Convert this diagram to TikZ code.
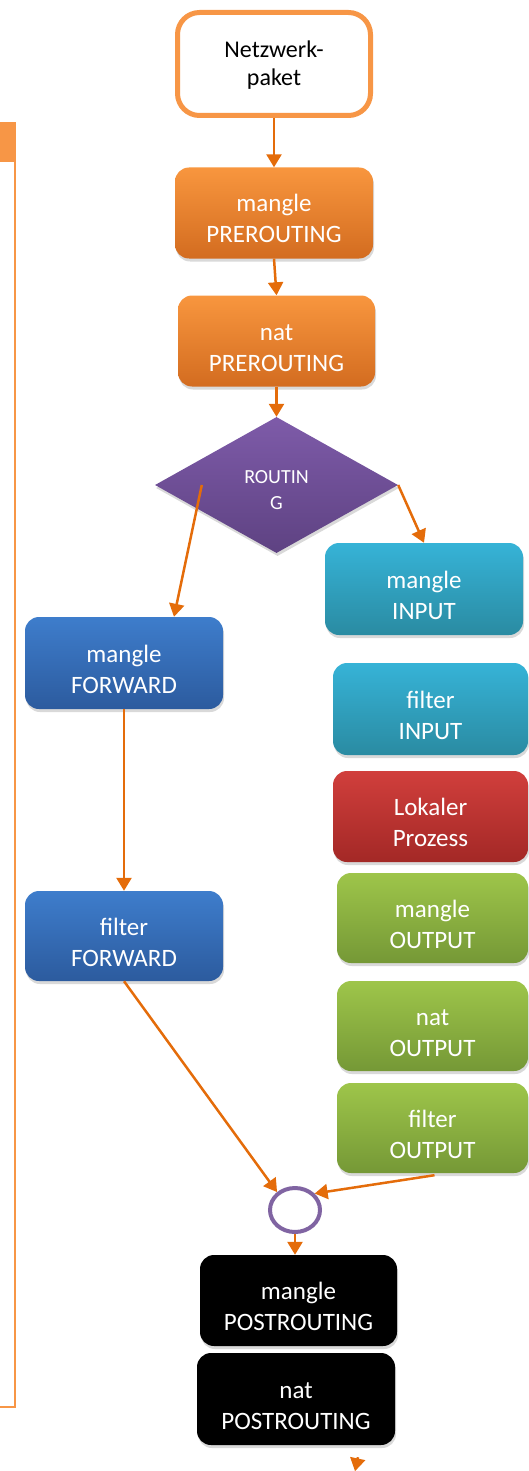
\documentclass[tikz,border=0pt]{standalone}
\usepackage{fontspec}
\setmainfont{Carlito}
\usetikzlibrary{positioning, arrows.meta, shapes.geometric, shadows, backgrounds}

\definecolor{pfeilfarbe}{HTML}{E46C0A}
\definecolor{rahmenorange}{HTML}{F79646}
\definecolor{orangeoben}{HTML}{F8963E}
\definecolor{orangeunten}{HTML}{D36C20}
\definecolor{lilaoben}{HTML}{7E5BA9}
\definecolor{lilaunten}{HTML}{5E4282}
\definecolor{kreisfarbe}{HTML}{8064A2}
\definecolor{tuerkisoben}{HTML}{36B3D7}
\definecolor{tuerkisunten}{HTML}{2A8BA2}
\definecolor{blauoben}{HTML}{3E7DCC}
\definecolor{blauunten}{HTML}{2C5B9E}
\definecolor{rotoben}{HTML}{D13F3C}
\definecolor{rotunten}{HTML}{A32826}
\definecolor{gruenoben}{HTML}{9EC54A}
\definecolor{gruenunten}{HTML}{759836}

\begin{document}
\begin{tikzpicture}[x=1pt, y=-1pt,
	kasten/.style={rectangle, rounded corners=14pt, minimum width=198pt, minimum height=91pt,
		inner sep=0pt, align=center, text=white, font=\fontsize{25}{31}\selectfont,
		text height=60pt, text depth=0pt,
		drop shadow={opacity=0.3, shadow xshift=1pt, shadow yshift=-3pt}},
	prekasten/.style={kasten, top color=orangeoben, bottom color=orangeunten},
	inkasten/.style={kasten, top color=tuerkisoben, bottom color=tuerkisunten},
	fwdkasten/.style={kasten, top color=blauoben, bottom color=blauunten},
	prozkasten/.style={kasten, top color=rotoben, bottom color=rotunten},
	outkasten/.style={kasten, top color=gruenoben, bottom color=gruenunten},
	postkasten/.style={kasten, fill=black},
	pfeil/.style={draw=pfeilfarbe, line width=2.5pt, -{Triangle[length=13pt,width=15pt]}}
	]
		\useasboundingbox (0,0) rectangle (528,1471);

		% Abgeschnittener Rahmen links
		\fill[rahmenorange] (0,122) rectangle (16,162);
		\draw[rahmenorange, line width=2pt] (15,162) -- (15,1406.5) -- (0,1406.5);

		% Eingang
		\node[draw=rahmenorange, line width=5pt, fill=white, rounded corners=22pt,
			minimum width=193pt, minimum height=103pt, align=center, inner sep=0pt,
			text height=44pt, text depth=0pt,
			font=\fontsize{24}{28}\selectfont] (netz) at (274,64) {Netzwerk-\\paket};

		% PREROUTING
		\node[prekasten] (mpre) at (274,213) {mangle\\PREROUTING};
		\node[prekasten, minimum width=197pt] (npre) at (276.5,341) {nat\\PREROUTING};

		% Routing-Entscheidung
		\node[diamond, aspect=1.79, minimum width=243pt, minimum height=136pt, inner sep=0pt,
			top color=lilaoben, bottom color=lilaunten, text=white, align=center,
			font=\fontsize{20}{26}\selectfont, text height=48pt, text depth=0pt,
			drop shadow={opacity=0.3, shadow xshift=1pt, shadow yshift=-3pt}]
			(routing) at (276.5,485) {ROUTIN\\G};

		% INPUT und lokaler Prozess
		\node[inkasten, minimum height=92pt] (min) at (424,589) {mangle\\INPUT};
		\node[inkasten, minimum width=195pt, minimum height=92pt] (fin) at (430.5,709) {filter\\INPUT};
		\node[prozkasten, minimum width=195pt] (lokal) at (430.5,816.5) {Lokaler\\Prozess};

		% OUTPUT
		\node[outkasten, minimum width=191pt, minimum height=90pt] (mout) at (432.5,918) {mangle\\OUTPUT};
		\node[outkasten, minimum width=191pt, minimum height=90pt] (nout) at (432.5,1026) {nat\\OUTPUT};
		\node[outkasten, minimum width=191pt, minimum height=90pt] (fout) at (432.5,1128) {filter\\OUTPUT};

		% FORWARD
		\node[fwdkasten, minimum height=92pt] (mfwd) at (124,663) {mangle\\FORWARD};
		\node[fwdkasten, minimum height=90pt] (ffwd) at (124,936) {filter\\FORWARD};

		% Zusammenfuehrung
		\node[ellipse, draw=kreisfarbe, line width=4pt, fill=white,
			minimum width=50pt, minimum height=44pt] (join) at (295,1210) {};

		% POSTROUTING
		\node[postkasten, minimum width=197pt] (mpost) at (298.5,1300.5) {mangle\\POSTROUTING};
		\node[postkasten, minimum height=92pt] (npost) at (296,1399) {nat\\POSTROUTING};

		% Pfeile
		\draw[pfeil] (netz.south) -- (mpre.north);
		\draw[pfeil] (mpre.south) -- (npre.north);
		\draw[pfeil] (npre.south) -- (routing.north);
		\draw[pfeil] ([xshift=47pt]routing.west) -- ([xshift=50pt]mfwd.north);
		\draw[pfeil] (routing.east) -- (min.north);
		\draw[pfeil] (mfwd.south) -- (ffwd.north);
		\draw[pfeil] (ffwd.south) -- (join.135);
		\draw[pfeil] ([xshift=2pt,yshift=-2pt]fout.south) -- (join.40);
		\draw[pfeil] (join.south) -- (join.south |- mpost.north);
		\draw[pfeil] ([xshift=62pt,yshift=-12pt]npost.south) -- ++(-3,14);
	\end{tikzpicture}
\end{document}
